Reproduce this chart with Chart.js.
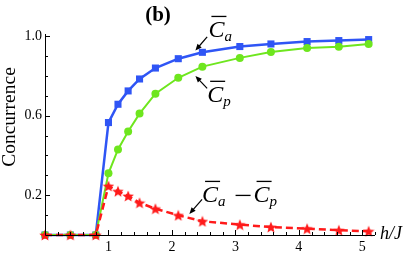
<!DOCTYPE html>
<html>
<head>
<meta charset="utf-8">
<script src="https://cdn.jsdelivr.net/npm/chart.js@4.4.0/dist/chart.umd.min.js"></script>
<style>
  html, body { margin: 0; padding: 0; background: #fff; }
  #wrap { width: 411px; height: 254px; position: relative; }
</style>
</head>
<body>
<div id="wrap"><canvas id="concChart"></canvas></div>
<script>
// values
const hValues = [0, 0.4, 0.8, 1.0, 1.15, 1.31, 1.49, 1.74, 2.1, 2.48, 3.07, 3.56, 4.13, 4.63, 5.1];
const caValues = [0, 0, 0, 0.565, 0.657, 0.724, 0.784, 0.839, 0.886, 0.918, 0.947, 0.96, 0.972, 0.977, 0.982];
const cpValues = [0, 0, 0, 0.31, 0.43, 0.52, 0.61, 0.71, 0.79, 0.846, 0.89, 0.92, 0.94, 0.946, 0.96];
const diffValues = [0, 0, 0, 0.246, 0.22, 0.196, 0.162, 0.132, 0.099, 0.069, 0.052, 0.04, 0.032, 0.024, 0.019];
const xTickLabels = [1, 2, 3, 4, 5];
const yTickLabels = [0.2, 0.6, 1.0];

const BLUE = '#2f55f5';
const GREEN = '#6ee61e';
const RED = '#ff1a1a';

function toPoints(ys) {
  return hValues.map((h, i) => ({ x: h, y: ys[i] }));
}

// filled five point star used as point style
function makeStar(size, color) {
  const c = document.createElement('canvas');
  c.width = size; c.height = size;
  const g = c.getContext('2d');
  const cx = size / 2, cy = size / 2 + 0.6;
  const R = size / 2, r = R * 0.45;
  g.beginPath();
  for (let i = 0; i < 10; i++) {
    const rad = i % 2 ? r : R;
    const a = -Math.PI / 2 + i * Math.PI / 5;
    const px = cx + rad * Math.cos(a), py = cy + rad * Math.sin(a);
    i ? g.lineTo(px, py) : g.moveTo(px, py);
  }
  g.closePath();
  g.fillStyle = color;
  g.fill();
  return c;
}
const starImg = makeStar(12, RED);

// overlined C with subscript, drawn at baseline (x, y)
function drawCbar(ctx, x, y, sub) {
  ctx.font = 'italic 24px "Liberation Serif"';
  ctx.fillText('C', x, y);
  const w = ctx.measureText('C').width;
  ctx.fillRect(x + 3, y - 21, w - 1, 1.3);
  ctx.font = 'italic 15px "Liberation Serif"';
  ctx.fillText(sub, x + w, y + 4);
  return x + w + ctx.measureText(sub).width;
}

function arrow(ctx, x1, y1, x2, y2) {
  const a = Math.atan2(y2 - y1, x2 - x1);
  ctx.lineWidth = 1.2;
  ctx.beginPath();
  ctx.moveTo(x1, y1);
  ctx.lineTo(x2 - 4 * Math.cos(a), y2 - 4 * Math.sin(a));
  ctx.stroke();
  ctx.beginPath();
  ctx.moveTo(x2, y2);
  ctx.lineTo(x2 - 7 * Math.cos(a - 0.4), y2 - 7 * Math.sin(a - 0.4));
  ctx.lineTo(x2 - 7 * Math.cos(a + 0.4), y2 - 7 * Math.sin(a + 0.4));
  ctx.closePath();
  ctx.fill();
}

const decorations = {
  id: 'decorations',
  afterDraw(chart) {
    const ctx = chart.ctx;
    const xs = chart.scales.x, ys = chart.scales.y;
    const area = chart.chartArea;
    const X = v => xs.getPixelForValue(v);
    const Y = v => ys.getPixelForValue(v);
    ctx.save();
    ctx.strokeStyle = '#000';
    ctx.fillStyle = '#000';
    ctx.lineWidth = 1;

    // axes
    ctx.beginPath();
    ctx.moveTo(area.left + 0.5, area.top - 2);
    ctx.lineTo(area.left + 0.5, area.bottom + 0.5);
    ctx.lineTo(area.right, area.bottom + 0.5);
    ctx.stroke();

    // ticks pointing inward
    ctx.beginPath();
    for (let i = 1; i <= 26; i++) {
      const v = i * 0.2;
      const major = Math.abs(v - Math.round(v)) < 1e-6;
      const px = Math.round(X(v)) + 0.5;
      ctx.moveTo(px, area.bottom);
      ctx.lineTo(px, area.bottom - (major ? 5 : 3));
    }
    for (let i = 1; i <= 10; i++) {
      const major = yTickLabels.some(t => Math.abs(t * 10 - i) < 1e-6);
      const py = Math.round(Y(i / 10)) + 0.5;
      ctx.moveTo(area.left, py);
      ctx.lineTo(area.left + (major ? 5 : 3), py);
    }
    ctx.stroke();

    // y axis title
    ctx.save();
    ctx.translate(15, 117);
    ctx.rotate(-Math.PI / 2);
    ctx.font = '19.5px "Liberation Serif"';
    ctx.textAlign = 'center';
    ctx.fillText('Concurrence', 0, 0);
    ctx.restore();

    // panel label
    ctx.font = 'bold 21px "Liberation Serif"';
    ctx.textAlign = 'center';
    ctx.fillText('(b)', 158, 21);
    ctx.textAlign = 'left';

    // x axis label
    ctx.font = 'italic 18px "Liberation Serif"';
    ctx.fillText('h/J', area.right + 5, area.bottom + 4);

    // curve labels with arrows
    drawCbar(ctx, X(2.575), Y(0.996), 'a');
    arrow(ctx, X(2.555), Y(0.996), X(2.37), Y(0.927));

    drawCbar(ctx, X(2.555), Y(0.67), 'p');
    arrow(ctx, X(2.555), Y(0.737), X(2.37), Y(0.799));

    let ex = drawCbar(ctx, X(2.475), Y(0.167), 'a');
    ctx.fillRect(ex + 10, Y(0.167) - 7, 15, 1.3);
    drawCbar(ctx, ex + 28, Y(0.167), 'p');
    arrow(ctx, X(2.475), Y(0.179), X(2.275), Y(0.106));

    ctx.restore();
  }
};

const chart = new Chart(document.getElementById('concChart'), {
  type: 'line',
  data: {
    datasets: [
      {
        label: 'Ca - Cp',
        data: toPoints(diffValues),
        borderColor: RED,
        borderWidth: 2.5,
        borderDash: [7, 4],
        pointStyle: starImg,
        order: 0
      },
      {
        label: 'Cp',
        data: toPoints(cpValues),
        borderColor: GREEN,
        backgroundColor: GREEN,
        borderWidth: 2,
        pointStyle: 'circle',
        pointRadius: 4,
        pointBorderWidth: 0,
        order: 1
      },
      {
        label: 'Ca',
        data: toPoints(caValues),
        borderColor: BLUE,
        backgroundColor: BLUE,
        borderWidth: 2.5,
        pointStyle: 'rect',
        pointRadius: 5,
        pointBorderWidth: 0,
        order: 2
      }
    ]
  },
  options: {
    responsive: true,
    maintainAspectRatio: false,
    animation: false,
    clip: false,
    layout: { padding: { top: 36, right: 36, left: 0, bottom: 0 } },
    plugins: {
      legend: { display: false },
      tooltip: { enabled: false }
    },
    elements: { line: { tension: 0, fill: false } },
    scales: {
      x: {
        type: 'linear',
        min: 0,
        max: 5.2,
        grid: { display: false, drawTicks: false },
        border: { display: false },
        afterBuildTicks: s => { s.ticks = xTickLabels.map(v => ({ value: v })); },
        ticks: {
          autoSkip: false,
          maxRotation: 0,
          padding: 4,
          color: '#000',
          font: { family: 'Liberation Serif', size: 14 },
          callback: v => String(v)
        },
        afterFit: s => { s.height = 19; }
      },
      y: {
        min: 0,
        max: 1,
        grid: { display: false, drawTicks: false },
        border: { display: false },
        afterBuildTicks: s => { s.ticks = yTickLabels.map(v => ({ value: v })); },
        ticks: {
          autoSkip: false,
          padding: 3,
          color: '#000',
          font: { family: 'Liberation Serif', size: 14 },
          callback: v => v.toFixed(1)
        },
        afterFit: s => { s.width = 45; }
      }
    }
  },
  plugins: [decorations]
});
</script>
</body>
</html>
